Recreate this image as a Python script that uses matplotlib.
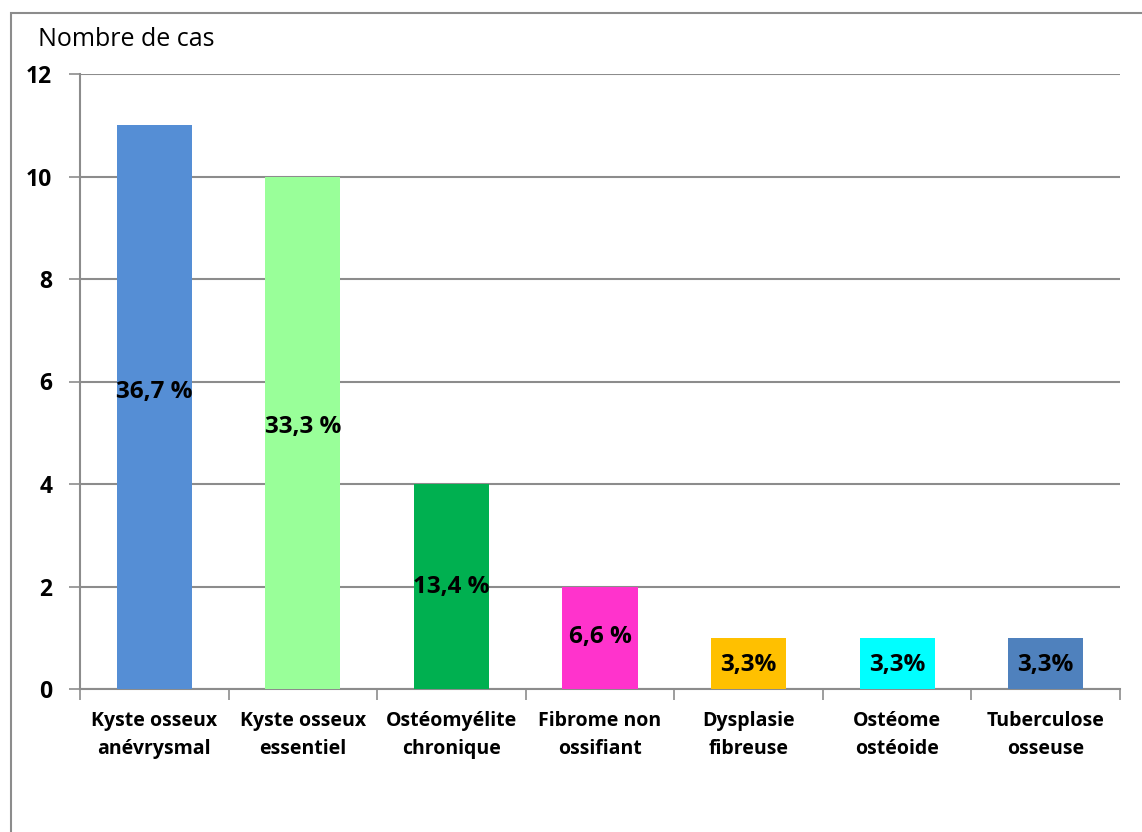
import matplotlib
matplotlib.use("Agg")
import matplotlib.pyplot as plt
from matplotlib.patches import Rectangle

categories = ["Kyste osseux\nanévrysmal", "Kyste osseux\nessentiel", "Ostéomyélite\nchronique",
              "Fibrome non\nossifiant", "Dysplasie\nfibreuse", "Ostéome\nostéoide", "Tuberculose\nosseuse"]
counts = [11, 10, 4, 2, 1, 1, 1]
pct_labels = ["36,7 %", "33,3 %", "13,4 %", "6,6 %", "3,3%", "3,3%", "3,3%"]
colors = ["#558ED5", "#99FF99", "#00B050", "#FF33CC", "#FFC000", "#00FFFF", "#4F81BD"]
label_frac = [0.527, 0.511, 0.50, 0.51, 0.47, 0.47, 0.47]
yticks = [0, 2, 4, 6, 8, 10, 12]

plt.rcParams['font.family'] = ['Open Sans', 'DejaVu Sans']
W, H = 1142, 832
fig = plt.figure(figsize=(W/100, H/100), dpi=100)
ax = fig.add_axes([80/W, 1-689/H, (1120-80)/W, (689-74)/H])

grey = "#8c8c8c"
x = list(range(len(categories)))
ax.bar(x, counts, width=0.505, color=colors, zorder=3)
for xi, c, lab, f in zip(x, counts, pct_labels, label_frac):
    ax.text(xi, c*f, lab, ha='center', va='center', fontsize=17.5, fontweight='bold',
            color='black', zorder=4)

ax.set_xlim(-0.5, len(categories)-0.5)
ax.set_ylim(0, 12)
ax.set_yticks(yticks)
ax.set_yticklabels([str(v) for v in yticks], fontsize=16.5, fontweight='bold')
ax.yaxis.grid(True, color=grey, linewidth=1.5, zorder=0)
ax.set_axisbelow(True)
ax.tick_params(axis='y', length=8, width=1.2, color=grey, pad=12)

ax.set_xticks([i - 0.5 for i in range(len(categories)+1)], minor=False)
ax.set_xticklabels([])
ax.set_xticks(x, minor=True)
ax.set_xticklabels(categories, minor=True, fontsize=14, fontweight='bold', linespacing=1.5)
ax.tick_params(axis='x', which='major', length=8, width=1.2, color=grey, direction='out')
ax.tick_params(axis='x', which='minor', length=0, pad=16)

for s in ['top', 'right']:
    ax.spines[s].set_visible(False)
for s in ['left', 'bottom']:
    ax.spines[s].set_color(grey)
    ax.spines[s].set_linewidth(1.5)

fig.text(38/W, 1-40/H, "Nombre de cas", fontsize=18, ha='left', va='center')

frame = Rectangle((11/W, -0.1), 1.2, (H-13)/H + 0.1, transform=fig.transFigure,
                  fill=False, edgecolor="#8c8c8c", linewidth=1.5)
fig.patches.append(frame)

fig.savefig("out.png", dpi=100)
